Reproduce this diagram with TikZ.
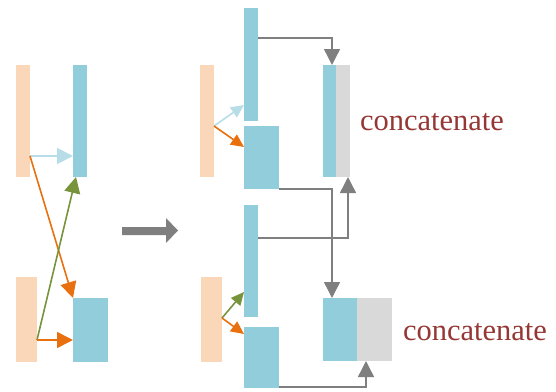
\documentclass[tikz,border=0pt]{standalone}
\usepackage{fontspec}
\setmainfont{Liberation Serif}
\usetikzlibrary{arrows.meta,calc}
\definecolor{peach}{HTML}{FBD7BA}
\definecolor{cblue}{HTML}{92CDDC}
\definecolor{cgray}{HTML}{D9D9D9}
\definecolor{lblue}{HTML}{B7DEE8}
\definecolor{corange}{HTML}{E9700F}
\definecolor{cgreen}{HTML}{77933C}
\definecolor{dgray}{HTML}{7F7F7F}
\definecolor{cred}{HTML}{953734}
\tikzset{
  bar/.style={draw=none, inner sep=0pt, outer sep=0pt},
  pbar/.style={bar, fill=peach},
  bbar/.style={bar, fill=cblue},
  gbar/.style={bar, fill=cgray},
  bigtip/.style={-{Triangle[length=16pt,width=16pt]}},
  smalltip/.style={-{Triangle[length=13pt,width=12pt]}},
  conn/.style={draw=dgray, line width=1.4pt, -{Triangle[length=16pt,width=16pt]}},
  lbl/.style={text=cred, font=\fontsize{30.5}{36}\selectfont, inner sep=0pt}
}
\begin{document}
\begin{tikzpicture}[x=1pt,y=-1pt]
\useasboundingbox (0,0) rectangle (556,391);
% left section
\node[pbar, minimum width=14pt, minimum height=112pt] (p1) at (23,121) {};
\node[bbar, minimum width=14pt, minimum height=112pt] (b1) at (80,121) {};
\node[pbar, minimum width=21pt, minimum height=85pt] (p2) at (26.5,319.5) {};
\node[bbar, minimum width=35pt, minimum height=64pt] (b2) at (90.5,330) {};
\coordinate (s1) at (30,156);
\coordinate (s2) at (37,340);
\draw[lblue, line width=2pt, bigtip] (p1.east |- s1) -- (b1.west |- s1);
\draw[corange, line width=1.6pt, bigtip] (p1.east |- s1) -- (b2.north west);
\draw[cgreen, line width=1.6pt, bigtip] (p2.east |- s2) -- ([xshift=3pt]b1.south west);
\draw[corange, line width=1.6pt, bigtip] (p2.east |- s2) -- (b2.west |- s2);
% big arrow
\fill[dgray] (122,227) -- (166,227) -- (166,218) -- (178,230.5) -- (166,243) -- (166,235) -- (122,235) -- cycle;
% middle top
\node[pbar, minimum width=14pt, minimum height=112pt] (p3) at (207,121) {};
\node[bbar, minimum width=14pt, minimum height=113pt] (t1) at (251,64.5) {};
\node[bbar, minimum width=35pt, minimum height=63pt] (q1) at (261.5,157.5) {};
\node[bbar, minimum width=13pt, minimum height=112pt] (c1b) at (329.5,121) {};
\node[gbar, minimum width=14pt, minimum height=112pt] (c1g) at (343,121) {};
% middle bottom
\node[pbar, minimum width=21pt, minimum height=85pt] (p4) at (211.5,319.5) {};
\node[bbar, minimum width=14pt, minimum height=112pt] (t2) at (251,261) {};
\node[bbar, minimum width=35pt, minimum height=61pt] (q2) at (261.5,357.5) {};
\node[bbar, minimum width=34pt, minimum height=63pt] (c2b) at (340,329.5) {};
\node[gbar, minimum width=35pt, minimum height=63pt] (c2g) at (374.5,329.5) {};
% small arrows
\coordinate (s3) at (214,126);
\coordinate (s4) at (222,318);
\draw[lblue, line width=1.6pt, smalltip] (p3.east |- s3) -- ([yshift=-40.5pt]t1.west);
\draw[corange, line width=1.6pt, smalltip] (p3.east |- s3) -- ([yshift=10.5pt]q1.west);
\draw[cgreen, line width=1.6pt, smalltip] (p4.east |- s4) -- ([yshift=-31pt]t2.west);
\draw[corange, line width=1.6pt, smalltip] (p4.east |- s4) -- ([yshift=-7pt]q2.north west);
% gray connectors
\draw[conn] ([yshift=26.5pt]t1.east) -| ([xshift=2.5pt]c1b.north);
\draw[conn] (q1.south east) -| ([xshift=9pt]c2b.north west);
\draw[conn] ([yshift=23pt]t2.east) -| ([xshift=-2pt]c1g.south east);
\draw[conn] ([yshift=1pt]q2.south east) -| ([xshift=9pt]c2g.south west);
% labels
\node[lbl] (l1) at (432,122) {concatenate};
\node[lbl] (l2) at (475,332) {concatenate};
\end{tikzpicture}
\end{document}
